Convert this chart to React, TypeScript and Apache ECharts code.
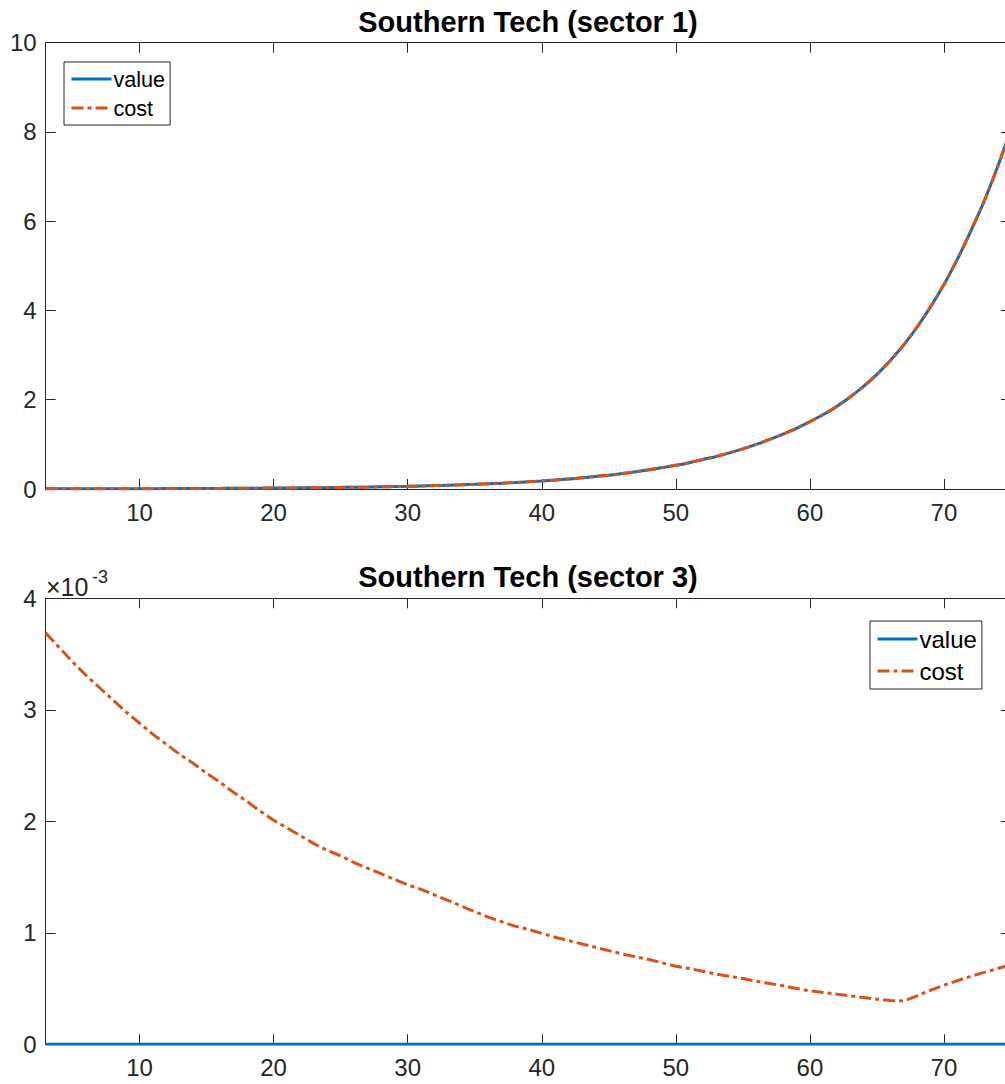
import { useEffect, useRef } from "react";
import * as echarts from "echarts";

// Ages on the horizontal axis (years)
const ages = [
  3, 4, 5, 6, 7, 8, 9, 10, 11, 12, 13, 14, 15, 16, 17, 18, 19, 20, 21, 22, 23, 24, 25,
  26, 27, 28, 29, 30, 31, 32, 33, 34, 35, 36, 37, 38, 39, 40, 41, 42, 43, 44, 45, 46, 47,
  48, 49, 50, 51, 52, 53, 54, 55, 56, 57, 58, 59, 60, 61, 62, 63, 64, 65, 66, 67, 68, 69,
  70, 71, 72, 73, 74, 75,
];

// Sector 1: value and cost coincide
const sector1Value = [
  0.0033, 0.0037, 0.0041, 0.0046, 0.0051, 0.0057, 0.0064, 0.0071, 0.0079, 0.0088, 0.0098,
  0.011, 0.012, 0.0135, 0.015, 0.017, 0.019, 0.021, 0.023, 0.026, 0.029, 0.032, 0.036,
  0.04, 0.044, 0.049, 0.055, 0.061, 0.068, 0.076, 0.085, 0.094, 0.105, 0.117, 0.13, 0.145,
  0.162, 0.18, 0.2, 0.225, 0.25, 0.28, 0.31, 0.345, 0.385, 0.43, 0.48, 0.53, 0.59, 0.66,
  0.73, 0.81, 0.9, 1.0, 1.11, 1.23, 1.36, 1.51, 1.67, 1.85, 2.06, 2.3, 2.57, 2.88, 3.23,
  3.63, 4.08, 4.58, 5.15, 5.78, 6.45, 7.22, 8.05,
];
const sector1Cost = [
  0.0033, 0.0037, 0.0041, 0.0046, 0.0051, 0.0057, 0.0064, 0.0071, 0.0079, 0.0088, 0.0098,
  0.011, 0.012, 0.0135, 0.015, 0.017, 0.019, 0.021, 0.023, 0.026, 0.029, 0.032, 0.036,
  0.04, 0.044, 0.049, 0.055, 0.061, 0.068, 0.076, 0.085, 0.094, 0.105, 0.117, 0.13, 0.145,
  0.162, 0.18, 0.2, 0.225, 0.25, 0.28, 0.31, 0.345, 0.385, 0.43, 0.48, 0.53, 0.59, 0.66,
  0.73, 0.81, 0.9, 1.0, 1.11, 1.23, 1.36, 1.51, 1.67, 1.85, 2.06, 2.3, 2.57, 2.88, 3.23,
  3.63, 4.08, 4.58, 5.15, 5.78, 6.45, 7.22, 8.05,
];

// Sector 3, in units of 1e-3
const sector3Value = [
  0, 0, 0, 0, 0, 0, 0, 0, 0, 0, 0, 0, 0, 0, 0, 0, 0, 0, 0, 0, 0, 0, 0, 0, 0, 0, 0, 0, 0,
  0, 0, 0, 0, 0, 0, 0, 0, 0, 0, 0, 0, 0, 0, 0, 0, 0, 0, 0, 0, 0, 0, 0, 0, 0, 0, 0, 0, 0,
  0, 0, 0, 0, 0, 0, 0, 0, 0, 0, 0, 0, 0, 0, 0,
];
const sector3Cost = [
  3.69, 3.56, 3.43, 3.31, 3.2, 3.09, 2.98, 2.88, 2.78, 2.69, 2.6, 2.52, 2.43, 2.35, 2.26,
  2.18, 2.09, 2.01, 1.94, 1.87, 1.8, 1.74, 1.69, 1.63, 1.58, 1.53, 1.48, 1.43, 1.39, 1.34,
  1.29, 1.24, 1.19, 1.14, 1.1, 1.06, 1.03, 0.995, 0.96, 0.93, 0.9, 0.87, 0.84, 0.81, 0.785,
  0.76, 0.73, 0.7, 0.68, 0.655, 0.63, 0.61, 0.59, 0.565, 0.545, 0.525, 0.5, 0.48, 0.465,
  0.45, 0.435, 0.42, 0.405, 0.393, 0.388, 0.435, 0.485, 0.53, 0.57, 0.61, 0.645, 0.68,
  0.715,
];

const xTicks = [10, 20, 30, 40, 50, 60, 70];
const titles = ["Southern Tech (sector 1)", "Southern Tech (sector 3)"];
const seriesNames = ["value", "cost"];

const FONT = "'Liberation Sans', Arial, Helvetica, sans-serif";
const AXIS_COLOR = "#262626";
const BLUE = "#0072BD";
const ORANGE = "#D95319";

const pairs = (ys: number[]) => ages.map((a, i) => [a, ys[i]]);

const xAxisPair = (gridIndex: number) => {
  const line = { show: true, onZero: false, lineStyle: { color: AXIS_COLOR, width: 1 } };
  const tick = {
    show: true,
    inside: true,
    length: 10,
    customValues: xTicks,
    lineStyle: { color: AXIS_COLOR, width: 1 },
  };
  return [
    {
      gridIndex,
      type: "value",
      position: "bottom",
      min: 3,
      max: 75,
      axisLine: line,
      axisTick: tick,
      axisLabel: {
        customValues: xTicks,
        fontSize: 24,
        fontFamily: FONT,
        color: AXIS_COLOR,
        margin: 11,
      },
      splitLine: { show: false },
    },
    {
      gridIndex,
      type: "value",
      position: "top",
      min: 3,
      max: 75,
      axisLine: line,
      axisTick: tick,
      axisLabel: { show: false },
      splitLine: { show: false },
    },
  ];
};

const yAxisPair = (gridIndex: number, max: number, interval: number) => {
  const line = { show: true, onZero: false, lineStyle: { color: AXIS_COLOR, width: 1 } };
  const tick = { show: true, inside: true, length: 10, lineStyle: { color: AXIS_COLOR, width: 1 } };
  return [
    {
      gridIndex,
      type: "value",
      position: "left",
      min: 0,
      max,
      interval,
      axisLine: line,
      axisTick: tick,
      axisLabel: { fontSize: 24, fontFamily: FONT, color: AXIS_COLOR, margin: 9 },
      splitLine: { show: false },
    },
    {
      gridIndex,
      type: "value",
      position: "right",
      min: 0,
      max,
      interval,
      axisLine: line,
      axisTick: tick,
      axisLabel: { show: false },
      splitLine: { show: false },
    },
  ];
};

const DASH_DOT = [12, 4, 4, 4];

const lineSeries = (
  name: string,
  axisIndex: number,
  ys: number[],
  color: string,
  dashed: boolean,
  smooth: number
) => ({
  name,
  type: "line",
  xAxisIndex: axisIndex,
  yAxisIndex: axisIndex,
  data: pairs(ys),
  showSymbol: false,
  symbol: "none",
  smooth,
  color,
  lineStyle: { color, width: 3, type: dashed ? DASH_DOT : "solid" },
  z: dashed ? 3 : 2,
});

export default function App() {
  const ref = useRef<HTMLDivElement>(null);

  useEffect(() => {
    if (!ref.current) return;
    const chart = echarts.init(ref.current, undefined, { renderer: "svg" });
    const legendBase = {
      data: seriesNames,
      orient: "vertical",
      itemWidth: 40,
      itemStyle: { opacity: 0 },
      lineStyle: { width: 3 },
      backgroundColor: "#fff",
      borderColor: AXIS_COLOR,
      borderWidth: 1,
      borderRadius: 0,
      selectedMode: false,
    };
    chart.setOption({
      animation: false,
      backgroundColor: "#fff",
      grid: [
        { left: 45.7, top: 42.7, width: 965.3, height: 446.3 },
        { left: 45.7, top: 598.3, width: 965.3, height: 446 },
      ],
      xAxis: [...xAxisPair(0), ...xAxisPair(1)],
      yAxis: [...yAxisPair(0, 10, 2), ...yAxisPair(1, 4, 1)],
      legend: [
        {
          ...legendBase,
          left: 64,
          top: 62,
          itemHeight: 24,
          itemGap: 5,
          padding: [5, 5, 5, 6],
          textStyle: { fontSize: 21.6, fontFamily: FONT, color: "#000", lineHeight: 24, padding: [0, 0, 0, -3] },
        },
        {
          ...legendBase,
          left: 870,
          top: 621,
          itemHeight: 26,
          itemGap: 6,
          padding: [5, 5, 5, 6],
          textStyle: { fontSize: 24, fontFamily: FONT, color: "#000", lineHeight: 26, padding: [0, 0, 0, -3] },
        },
      ],
      graphic: [
        {
          type: "text",
          x: 528,
          y: 22,
          style: {
            text: titles[0],
            font: `bold 29px ${FONT}`,
            fill: "#000",
            textAlign: "center",
            textVerticalAlign: "middle",
          },
        },
        {
          type: "text",
          x: 528,
          y: 577,
          style: {
            text: titles[1],
            font: `bold 29px ${FONT}`,
            fill: "#000",
            textAlign: "center",
            textVerticalAlign: "middle",
          },
        },
        {
          type: "text",
          x: 46,
          y: 587,
          style: {
            text: "×10",
            font: `25px ${FONT}`,
            fill: AXIS_COLOR,
            textAlign: "left",
            textVerticalAlign: "middle",
          },
        },
        {
          type: "text",
          x: 92,
          y: 577,
          style: {
            text: "-3",
            font: `18px ${FONT}`,
            fill: AXIS_COLOR,
            textAlign: "left",
            textVerticalAlign: "middle",
          },
        },
      ],
      series: [
        lineSeries(seriesNames[0], 0, sector1Value, BLUE, false, 0.3),
        lineSeries(seriesNames[1], 0, sector1Cost, ORANGE, true, 0.3),
        lineSeries(seriesNames[0], 2, sector3Value, BLUE, false, 0),
        lineSeries(seriesNames[1], 2, sector3Cost, ORANGE, true, 0),
      ],
    });
    return () => chart.dispose();
  }, []);

  return (
    <div
      style={{
        position: "absolute",
        left: 0,
        top: 0,
        width: 1005,
        height: 1084,
        overflow: "hidden",
        background: "#fff",
      }}
    >
      <div ref={ref} style={{ width: 1030, height: 1084 }} />
    </div>
  );
}
